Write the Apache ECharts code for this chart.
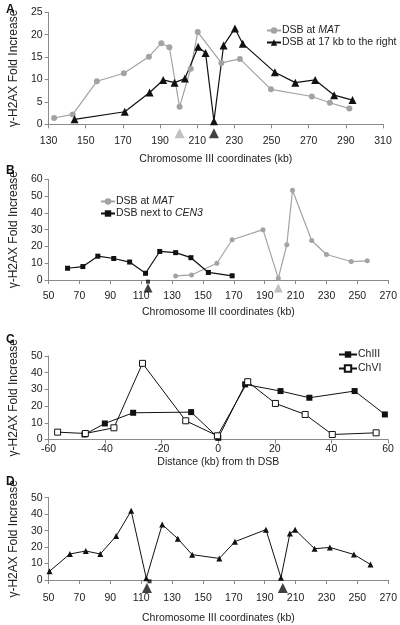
<!DOCTYPE html>
<html><head><meta charset="utf-8">
<script src="https://cdn.jsdelivr.net/npm/echarts@6/dist/echarts.min.js"></script>
<style>html,body{margin:0;padding:0;background:#fff}#c{width:400px;height:625px}</style>
</head><body><div id="c"></div>
<script>
// Panel A
var aMatX = [133, 143, 156, 170.5, 184, 190.7, 195, 200.5, 206.5, 210.3, 223, 233, 249.7, 271.7, 281.4, 291.9];
var aMatY = [1.4, 2.2, 9.6, 11.4, 15.1, 18.1, 17.2, 3.9, 12.4, 20.6, 13.7, 14.6, 7.8, 6.2, 4.8, 3.5];
var a17X = [144, 171, 184.4, 191.7, 197.8, 203.4, 210.5, 214.5, 219, 224.2, 230.3, 234.5, 251.8, 262.8, 273.5, 283.7, 293.6];
var a17Y = [1.1, 2.8, 7.1, 9.9, 9.3, 10.2, 17.3, 15.9, 0.7, 17.6, 21.4, 18.0, 11.6, 9.3, 9.9, 6.5, 5.4];
var aMarkMat = [[200.5, -2]];
var aMark17 = [[219, -2]];
// Panel B
var bCenX = [62.3, 72.2, 81.9, 92.2, 102.5, 112.8, 122, 132.3, 142.2, 153.5, 168.9];
var bCenY = [7, 8, 14.2, 12.8, 10.7, 4, 17, 16.3, 13.3, 4.5, 2.5];
var bMatX = [132.3, 142.6, 159, 168.9, 188.9, 198.8, 204.3, 208, 220.4, 230, 246, 256.4];
var bMatY = [2.4, 3, 10, 24, 30, 1, 21, 53.5, 23.5, 15.2, 11, 11.4];
var bMarkCen = [[114.4, -4.8]];
var bSqCen = [[114.4, -1]];
var bMarkMat = [[198.8, -4.8]];
// Panel C
var c3X = [-47.3, -40.1, -30.1, -9.6, 0, 9.5, 22, 32.2, 48.2, 58.9];
var c3Y = [3, 9.6, 16, 16.4, 1, 33, 29, 25, 29, 15];
var c6X = [-56.8, -47, -36.9, -26.8, -11.5, -0.3, 10.4, 20.2, 30.7, 40.3, 55.8];
var c6Y = [4.4, 3.6, 7, 45.6, 11.2, 2.2, 34.6, 21.6, 15, 3, 4];
// Panel D
var dX = [50.6, 63.8, 74.1, 83.5, 93.8, 103.5, 113.3, 123.6, 133.7, 143, 160.6, 170.7, 190.8, 200.5, 206.3, 209.7, 222.3, 232.2, 247.8, 258.5];
var dY = [5.3, 15.8, 17.6, 15.8, 26.7, 42, 1, 33.7, 25.1, 15.4, 13.1, 23.3, 30.6, 1.4, 28.2, 30.5, 19, 19.8, 15.5, 9.4];
var dMarks = [[113.7, -4.8], [201.7, -4.8]];
var dSq = [[115.4, -0.8]];

var yTitle = 'γ-H2AX Fold Increase';
var xTitle = 'Chromosome III coordinates (kb)';
var cTitle = 'Distance (kb) from th DSB';

function zip(xs, ys) { return xs.map(function (x, i) { return [x, ys[i]]; }); }

// pick a narrow font for horizontal text if available
var cv = document.createElement('canvas').getContext('2d');
function w(f) { cv.font = f; return cv.measureText(xTitle).width; }
var hasNarrow = w("12px 'Liberation Sans Narrow', monospace") !== w('12px monospace');
var HF = hasNarrow ? "'Liberation Sans Narrow'" : "'Liberation Sans'";
var HS = hasNarrow ? 12 : 10.5;
var VF = "'Liberation Sans'";
var TXT = '#222';
var AX = '#8a8a8a';
var GRAY = '#a3a3a3';
var BLK = '#111';

function xAx(idx, min, max, interval, name, gap, margin) {
  return {
    type: 'value', gridIndex: idx, min: min, max: max, interval: interval,
    name: name, nameLocation: 'middle', nameGap: gap,
    nameTextStyle: { color: TXT, fontFamily: HF, fontSize: HS },
    axisLine: { show: true, onZero: false, lineStyle: { color: AX, width: 1 } },
    axisTick: { show: true, length: 4, lineStyle: { color: AX } },
    axisLabel: { color: TXT, fontFamily: HF, fontSize: HS, margin: margin },
    splitLine: { show: false }
  };
}
function yAx(idx, max, interval) {
  return {
    type: 'value', gridIndex: idx, min: 0, max: max, interval: interval,
    name: yTitle, nameLocation: 'middle', nameRotate: 90, nameGap: 23,
    nameTextStyle: { color: TXT, fontFamily: VF, fontSize: 12 },
    axisLine: { show: true, onZero: false, lineStyle: { color: AX, width: 1 } },
    axisTick: { show: true, length: 4, lineStyle: { color: AX } },
    axisLabel: { color: TXT, fontFamily: HF, fontSize: HS, margin: 6 },
    splitLine: { show: false }
  };
}
function lineS(name, idx, data, color, symbol, size, extra) {
  var s = {
    name: name, type: 'line', xAxisIndex: idx, yAxisIndex: idx, data: data,
    symbol: symbol, symbolSize: size, showSymbol: true,
    lineStyle: { color: color, width: 1.2 },
    itemStyle: { color: color, borderColor: color, borderWidth: 0 },
    animation: false, z: 3
  };
  if (extra) for (var k in extra) s[k] = extra[k];
  return s;
}
function markS(idx, data, color, symbol, size) {
  return {
    type: 'scatter', xAxisIndex: idx, yAxisIndex: idx, data: data, clip: false,
    symbol: symbol, symbolSize: size, itemStyle: { color: color },
    animation: false, silent: true, z: 4
  };
}
var rich = {
  n: { fontFamily: HF, fontSize: HS, color: TXT },
  i: { fontFamily: HF, fontSize: HS, color: TXT, fontStyle: 'italic' }
};
var labels = {
  'A_MAT': '{n|DSB at }{i|MAT}',
  'A_17': '{n|DSB at 17 kb to the right}',
  'B_MAT': '{n|DSB at }{i|MAT}',
  'B_CEN': '{n|DSB next to }{i|CEN3}',
  'ChIII': '{n|ChIII}',
  'ChVI': '{n|ChVI}'
};
function leg(data, left, top, wd, gap) {
  return {
    data: data, left: left, top: top, orient: 'vertical', itemGap: gap,
    itemWidth: wd, itemHeight: 8, padding: 0,
    formatter: function (n) { return labels[n]; },
    textStyle: { rich: rich, padding: [0, 0, 0, -4] },
    selectedMode: false
  };
}
var letterStyle = { fontSize: 12, fontWeight: 'bold', color: '#111', fontFamily: VF };

var chart = echarts.init(document.getElementById('c'), null, { renderer: 'canvas' });
chart.setOption({
  backgroundColor: '#fff',
  animation: false,
  title: [
    { text: 'A', left: 1, top: -1, textStyle: letterStyle },
    { text: 'B', left: 1, top: 160, textStyle: letterStyle },
    { text: 'C', left: 1, top: 329, textStyle: letterStyle },
    { text: 'D', left: 1, top: 471, textStyle: letterStyle }
  ],
  grid: [
    { left: 32, right: 17, top: 12.3, height: 112 },
    { left: 32, right: 10, top: 179.3, height: 100.7 },
    { left: 32, right: 12, top: 356, height: 83.5 },
    { left: 33, right: 10, top: 497.7, height: 84 }
  ],
  xAxis: [
    xAx(0, 130, 310, 20, xTitle, 29, 11),
    xAx(1, 50, 270, 20, xTitle, 27, 11),
    xAx(2, -60, 60, 20, cTitle, 17, 4),
    xAx(3, 50, 270, 20, xTitle, 33, 13)
  ],
  yAxis: [yAx(0, 25, 5), yAx(1, 60, 10), yAx(2, 50, 10), yAx(3, 50, 10)],
  legend: [
    leg(['A_MAT', 'A_17'], 266, 25, 14, 1),
    leg(['B_MAT', 'B_CEN'], 100, 196, 14, 1),
    leg(['ChIII', 'ChVI'], 338, 349, 18, 3)
  ],
  series: [
    lineS('A_MAT', 0, zip(aMatX, aMatY), GRAY, 'circle', 6),
    lineS('A_17', 0, zip(a17X, a17Y), BLK, 'triangle', 8),
    markS(0, aMarkMat, '#b0b0b0', 'triangle', 10),
    markS(0, aMark17, BLK, 'triangle', 10),
    lineS('B_MAT', 1, zip(bMatX, bMatY), GRAY, 'circle', 5),
    lineS('B_CEN', 1, zip(bCenX, bCenY), BLK, 'rect', 5),
    markS(1, bMarkCen, BLK, 'triangle', 9),
    markS(1, bSqCen, BLK, 'rect', 4),
    markS(1, bMarkMat, '#b0b0b0', 'triangle', 9),
    lineS('ChIII', 2, zip(c3X, c3Y), BLK, 'rect', 6, { lineStyle: { color: BLK, width: 1 } }),
    lineS('ChVI', 2, zip(c6X, c6Y), BLK, 'rect', 6, {
      lineStyle: { color: BLK, width: 1 },
      itemStyle: { color: '#fff', borderColor: BLK, borderWidth: 1 }
    }),
    lineS('D', 3, zip(dX, dY), BLK, 'triangle', 6, { lineStyle: { color: BLK, width: 1 } }),
    markS(3, dMarks, BLK, 'triangle', 10),
    markS(3, dSq, BLK, 'rect', 4)
  ]
});
</script></body></html>
